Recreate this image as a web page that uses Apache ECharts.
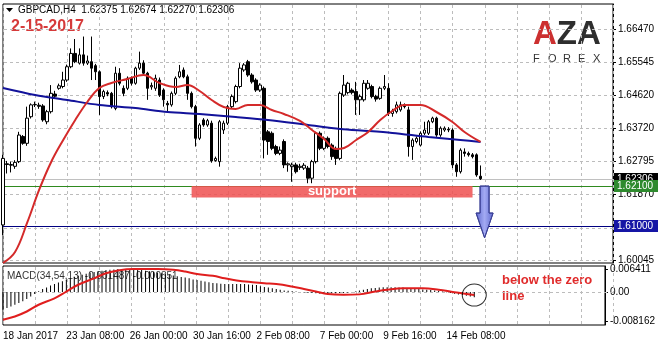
<!DOCTYPE html>
<html><head><meta charset="utf-8">
<script src="https://cdn.jsdelivr.net/npm/echarts@6/dist/echarts.min.js"></script>
<style>html,body{margin:0;padding:0;background:#fff}#c{width:658px;height:346px}</style>
</head><body><div id="c"></div>
<script>
// ---------- DATA ----------
const opens = [1.6102,1.6272,1.6268,1.6265,1.6278,1.6348,1.6329,1.6403,1.6436,1.6435,
1.6433,1.6389,1.6417,1.6466,1.6482,1.6487,1.6505,1.6542,1.6579,1.6552,
1.6575,1.6552,1.6556,1.6545,1.6528,1.6459,1.6470,1.6468,1.6426,1.6524,
1.6482,1.6482,1.6510,1.6496,1.6538,1.6552,1.6524,1.6486,1.6482,1.6505,
1.6477,1.6440,1.6436,1.6468,1.6514,1.6533,1.6514,1.6468,1.6431,1.6343,
1.6394,1.6380,1.6385,1.6281,1.6278,1.6366,1.6385,1.6431,1.6445,1.6487,
1.6533,1.6556,1.6519,1.6505,1.6477,1.6482,1.6361,1.6357,1.6320,1.6301,
1.6334,1.6269,1.6264,1.6269,1.6262,1.6260,1.6260,1.6232,1.6278,1.6357,
1.6315,1.6343,1.6324,1.6315,1.6287,1.6463,1.6470,1.6477,1.6473,1.6450,
1.6450,1.6482,1.6487,1.6459,1.6454,1.6482,1.6482,1.6412,1.6417,1.6422,
1.6436,1.6422,1.6320,1.6334,1.6324,1.6357,1.6357,1.6389,1.6399,1.6352,
1.6366,1.6368,1.6366,1.6269,1.6250,1.6305,1.6301,1.6297,1.6297,1.62375];
const highs = [1.6297,1.6280,1.6278,1.6282,1.6361,1.6352,1.6431,1.6440,1.6445,1.6442,
1.6438,1.6422,1.6491,1.6475,1.6495,1.6528,1.6548,1.6593,1.6619,1.6593,
1.6626,1.6573,1.6626,1.6550,1.6532,1.6478,1.6476,1.6472,1.6542,1.6538,
1.6490,1.6515,1.6515,1.6542,1.6584,1.6560,1.6528,1.6498,1.6520,1.6512,
1.6482,1.6447,1.6473,1.6515,1.6547,1.6540,1.6520,1.6473,1.6436,1.6385,
1.6399,1.6397,1.6392,1.6292,1.6394,1.6392,1.6436,1.6465,1.6492,1.6552,
1.6552,1.6561,1.6524,1.6510,1.6496,1.6487,1.6366,1.6362,1.6325,1.6320,
1.6340,1.6276,1.6275,1.6275,1.6272,1.6274,1.6266,1.6283,1.6361,1.6362,
1.6348,1.6348,1.6329,1.6320,1.6473,1.6519,1.6500,1.6482,1.6500,1.6465,
1.6505,1.6505,1.6492,1.6464,1.6487,1.6519,1.6496,1.6425,1.6445,1.6445,
1.6440,1.6431,1.6343,1.6348,1.6362,1.6389,1.6394,1.6403,1.6403,1.6376,
1.6376,1.6374,1.6371,1.6274,1.6315,1.6315,1.6306,1.6302,1.6301,1.62674];
const lows = [1.6074,1.6245,1.6248,1.6258,1.6274,1.6325,1.6322,1.6398,1.6430,1.6425,
1.6389,1.6382,1.6412,1.6455,1.6478,1.6482,1.6500,1.6538,1.6552,1.6548,
1.6545,1.6547,1.6505,1.6505,1.6408,1.6452,1.6460,1.6426,1.6421,1.6490,
1.6460,1.6477,1.6490,1.6492,1.6533,1.6519,1.6450,1.6478,1.6475,1.6458,
1.6431,1.6419,1.6431,1.6463,1.6510,1.6510,1.6450,1.6426,1.6320,1.6338,
1.6375,1.6375,1.6275,1.6278,1.6264,1.6355,1.6380,1.6426,1.6440,1.6482,
1.6528,1.6514,1.6495,1.6472,1.6472,1.6287,1.6297,1.6310,1.6296,1.6296,
1.6260,1.6250,1.6222,1.6245,1.6255,1.6255,1.6218,1.6218,1.6273,1.6310,
1.6310,1.6315,1.6283,1.6269,1.6282,1.6458,1.6465,1.6465,1.6408,1.6408,
1.6445,1.6478,1.6454,1.6445,1.6450,1.6477,1.6405,1.6403,1.6412,1.6417,
1.6426,1.6292,1.6283,1.6329,1.6320,1.6352,1.6352,1.6385,1.6347,1.6347,
1.6361,1.6360,1.6260,1.6236,1.6245,1.6292,1.6292,1.6287,1.6236,1.6227];
const closes = [1.6287,1.6270,1.6270,1.6276,1.6352,1.6329,1.6399,1.6436,1.6437,1.6432,
1.6394,1.6417,1.6468,1.6460,1.6489,1.6505,1.6542,1.6579,1.6556,1.6575,
1.6552,1.6558,1.6538,1.6528,1.6459,1.6473,1.6466,1.6431,1.6524,1.6496,
1.6468,1.6510,1.6496,1.6538,1.6552,1.6524,1.6482,1.6490,1.6510,1.6463,
1.6450,1.6436,1.6468,1.6510,1.6528,1.6514,1.6468,1.6431,1.6343,1.6380,
1.6380,1.6392,1.6280,1.6287,1.6389,1.6385,1.6431,1.6459,1.6487,1.6538,
1.6547,1.6519,1.6500,1.6477,1.6491,1.6338,1.6334,1.6315,1.6301,1.6310,
1.6269,1.6272,1.6269,1.6250,1.6265,1.6268,1.6232,1.6278,1.6357,1.6315,
1.6343,1.6320,1.6292,1.6287,1.6468,1.6491,1.6496,1.6470,1.6450,1.6459,
1.6496,1.6496,1.6459,1.6452,1.6482,1.6487,1.6412,1.6419,1.6436,1.6436,
1.6431,1.6320,1.6338,1.6343,1.6357,1.6366,1.6389,1.6399,1.6352,1.6371,
1.6371,1.6366,1.6269,1.6250,1.6310,1.6301,1.6297,1.6292,1.6241,1.62306];

// moving averages: [bar index, price]
const maFast = [[0,1.59961],[3,1.60267],[6,1.61074],[9,1.61992],[12,1.62770],[15,1.63382],[18,1.63939],
[21,1.64439],[24,1.64829],[27,1.64968],[31,1.65079],[35,1.65190],[39,1.64968],[43,1.64857],[46,1.64912],
[49,1.64745],[52,1.64495],[55,1.64300],[58,1.64245],[61,1.64356],[64,1.64356],[67,1.64217],[70,1.64106],
[74,1.63911],[77,1.63661],[80,1.63410],[83,1.63132],[85,1.63160],[88,1.63382],[91,1.63605],[94,1.63939],
[97,1.64189],[100,1.64356],[104,1.64356],[108,1.64161],[112,1.63883],[115,1.63605],[119,1.63327]];
const maSlow = [[0,1.64829],[8,1.64634],[16,1.64495],[24,1.64356],[33,1.64272],[41,1.64161],[49,1.64106],
[58,1.64022],[66,1.63939],[76,1.63800],[84,1.63689],[91,1.63633],[97,1.63577],[106,1.63466],[114,1.63382],[119,1.63327]];

// MACD(34,54,13) main histogram per bar
const macdMain = [-0.0050,-0.0045,-0.0041,-0.0036,-0.0031,-0.0026,-0.0020,-0.0013,-0.0006,0.0002,
0.0008,0.0012,0.0018,0.0022,0.0026,0.0030,0.0034,0.0038,0.0042,0.0045,
0.0048,0.0051,0.0054,0.0056,0.0058,0.0059,0.0061,0.0062,0.0063,0.0064,
0.0064,0.0064,0.0064,0.0063,0.0062,0.0061,0.0059,0.0058,0.0056,0.0054,
0.0052,0.0050,0.0048,0.0046,0.0044,0.0042,0.0040,0.0038,0.0035,0.0033,
0.0031,0.0029,0.0027,0.0025,0.0024,0.0023,0.0022,0.0022,0.0022,0.0022,
0.0022,0.0022,0.0021,0.0020,0.0019,0.0016,0.0014,0.0012,0.0010,0.0008,
0.0006,0.0004,0.0003,0.0002,0.0001,0.0000,-0.0002,-0.0003,-0.0003,-0.0004,
-0.0005,-0.0005,-0.0005,-0.0004,-0.0004,-0.0003,-0.0003,-0.0002,-0.0001,0.0001,
0.0004,0.0006,0.0008,0.0010,0.0011,0.0012,0.0013,0.0013,0.0013,0.0013,
0.0012,0.0012,0.0011,0.0010,0.0009,0.0008,0.0007,0.0006,0.0005,0.0004,
0.0003,0.0001,-0.0001,-0.0003,-0.0005,-0.0007,-0.0009,-0.0011,-0.0013,-0.001487];
const macdSignal = [[0,-0.0078],[3,-0.0069],[6,-0.0055],[9,-0.0036],[13,-0.0018],[16,0.0001],[19,0.0020],
[23,0.0038],[26,0.0052],[29,0.0060],[33,0.0064],[36,0.0064],[39,0.0064],[43,0.0062],[46,0.0057],[49,0.0050],
[53,0.0045],[56,0.0038],[59,0.0032],[63,0.0027],[66,0.0024],[69,0.0022],[73,0.0015],[76,0.0008],[79,0.0001],
[82,-0.0006],[86,-0.0008],[90,-0.0007],[94,0.0001],[97,0.0006],[101,0.0010],[106,0.0010],[110,0.0006],
[114,-0.0001],[119,-0.000851]];

const priceTicks = [1.66470,1.65545,1.64620,1.63720,1.62795,1.61870,1.60945,1.60045];
const macdTicks = [0.006411, 0, -0.008162];
const xTickLabels = ['18 Jan 2017','23 Jan 08:00','26 Jan 00:00','30 Jan 16:00','2 Feb 08:00','7 Feb 00:00','9 Feb 16:00','14 Feb 08:00'];
const lastPrice = 1.62306, supportLevel = 1.62100, targetLevel = 1.61000, supportBoxLow = 1.6178;
const titleText = 'GBPCAD,H4  1.62375 1.62674 1.62270 1.62306';
const macdTitle = 'MACD(34,54,13) -0.001487 -0.000851';

// ---------- categories: H4 bars, weekends skipped ----------
const MONTHS = ['Jan','Feb','Mar','Apr','May','Jun','Jul','Aug','Sep','Oct','Nov','Dec'];
function barTimes(startMs, count){
  const out=[]; let t=startMs;
  while(out.length<count){
    const d=new Date(t), wd=d.getUTCDay();
    if(wd!==0 && wd!==6){
      const hh=String(d.getUTCHours()).padStart(2,'0');
      out.push(d.getUTCDate()+' '+MONTHS[d.getUTCMonth()]+' '+hh+':00');
    }
    t+=4*3600e3;
  }
  return out;
}
const categories = barTimes(Date.UTC(2017,0,18,16), 153);
const labelAt = {};
xTickLabels.forEach(l=>{ let i=categories.indexOf(l); if(i<0) i=0; labelAt[i]=l; });
const vGridIdx = categories.map((c,i)=>i).filter(i=>i%8===0);

const candleData = opens.map((o,i)=>[o, closes[i], lows[i], highs[i]]);

const FONT = 'Liberation Sans';
const GRID_COLOR = '#bcbcbc';
const DASH = 3, STEP = 6;
const PANE0 = {left:3, top:4, width:610, height:259};
const PANE1 = {left:3, top:266, width:610, height:59};

// level lines with value boxes on the price scale
const levelStyles = {};
levelStyles[lastPrice] = {line:'#c0c0c0', box:'#000000'};
levelStyles[supportLevel] = {line:'#2f8a1f', box:'#2e8a2e'};
levelStyles[targetLevel] = {line:'#000080', box:'#1515a5'};
function levelRender(params, api){
  const cs = params.coordSys;
  const v = api.value(0);
  const st = levelStyles[v];
  const y = Math.round(api.coord([0, v])[1]) + 0.5;
  const bx = cs.x + cs.width + 1;
  return {type:'group', children:[
    {type:'line', shape:{x1:cs.x, y1:y, x2:cs.x + cs.width, y2:y}, style:{stroke:st.line, lineWidth:1}},
    {type:'rect', shape:{x:bx, y:y - 6.5, width:658 - bx, height:12}, style:{fill:st.box}},
    {type:'text', x:bx + 3, y:y, style:{text:v.toFixed(5), fill:'#fff', font:'10px ' + FONT, verticalAlign:'middle', align:'left'}}
  ]};
}

const baseGraphic = [
  {type:'polygon', shape:{points:[[6,8],[13,8],[9.5,12]]}, style:{fill:'#000'}},
  {type:'text', left:18, top:5, style:{text:titleText, font:'10px '+FONT, fill:'#000'}},
  {type:'text', left:11, top:19, style:{text:'2-15-2017', font:'bold 16px '+FONT, fill:'#d63a3a'}},
  {type:'text', left:533, top:18, style:{text:'{r|A}{d|Z}{d|A}', rich:{r:{font:'bold 33px '+FONT, fill:'#cc3030'}, d:{font:'bold 33px '+FONT, fill:'#2e2e2e'}}}},
  ...'FOREX'.split('').map((ch,k)=>({type:'text', left:533+15*k, top:53, style:{text:ch, font:'11px '+FONT, fill:'#333'}})),
  {type:'text', left:7, top:271, style:{text:macdTitle, font:'10px '+FONT, fill:'#333'}},
  {type:'text', left:502, top:274, style:{text:'below the zero', font:'bold 13px '+FONT, fill:'#e02b2b'}},
  {type:'text', left:502, top:290, style:{text:'line', font:'bold 13px '+FONT, fill:'#e02b2b'}}
];

const chart = echarts.init(document.getElementById('c'), null, {renderer:'canvas'});
chart.setOption({
  animation:false,
  backgroundColor:'#fff',
  grid:[
    {left:PANE0.left, right:45, top:PANE0.top, height:PANE0.height, show:true, borderColor:'#000', borderWidth:1, backgroundColor:'transparent'},
    {left:PANE1.left, right:45, top:PANE1.top, height:PANE1.height, show:true, borderColor:'#000', borderWidth:1, backgroundColor:'transparent'}
  ],
  xAxis:[
    {type:'category', gridIndex:0, data:categories, boundaryGap:false,
     axisLine:{show:false}, axisTick:{show:false}, axisLabel:{show:false}, splitLine:{show:false}},
    {type:'category', gridIndex:1, data:categories, boundaryGap:false,
     axisLine:{show:false}, axisTick:{show:false}, splitLine:{show:false},
     axisLabel:{show:true, interval:(i)=>labelAt[i]!==undefined, formatter:(v,i)=>labelAt[i]||'',
       align:'left', margin:6, color:'#000', fontSize:10, fontFamily:FONT}}
  ],
  yAxis:[
    {type:'value', gridIndex:0, position:'right', min:1.59961, max:1.67165,
     axisLine:{show:true, lineStyle:{color:'#000'}},
     axisTick:{show:true, length:3, customValues:priceTicks, lineStyle:{color:'#000'}},
     axisLabel:{customValues:priceTicks, formatter:v=>v.toFixed(5), color:'#000', fontSize:10, fontFamily:FONT, margin:5},
     splitLine:{show:false}},
    {type:'value', gridIndex:1, position:'right', min:-0.00928, max:0.00725,
     axisLine:{show:true, lineStyle:{color:'#000'}},
     axisTick:{show:true, length:3, customValues:macdTicks, lineStyle:{color:'#000'}},
     axisLabel:{customValues:macdTicks, formatter:v=>v===0?'0.00':v.toFixed(6), color:'#000', fontSize:10, fontFamily:FONT, margin:5},
     splitLine:{show:false}}
  ],
  series:[
    {type:'custom', xAxisIndex:0, yAxisIndex:0, z:3, silent:true, clip:false,
     data:[[lastPrice],[supportLevel],[targetLevel]], encode:{y:0}, renderItem:levelRender},
    {type:'candlestick', xAxisIndex:0, yAxisIndex:0, data:candleData, barWidth:3, z:5,
     itemStyle:{color:'#fff', color0:'#000', borderColor:'#000', borderColor0:'#000', borderWidth:1}},
    {type:'line', xAxisIndex:0, yAxisIndex:0, data:maSlow, showSymbol:false, smooth:0.3, z:6,
     lineStyle:{color:'#12129a', width:2}},
    {type:'line', xAxisIndex:0, yAxisIndex:0, data:maFast, showSymbol:false, smooth:0.4, z:6,
     lineStyle:{color:'#d42a2a', width:2},
     markArea:{silent:true, z:7, itemStyle:{color:'rgba(238,80,80,0.85)'},
       label:{show:true, position:'inside', formatter:'support', color:'#fff', fontWeight:'bold', fontSize:13, fontFamily:FONT},
       data:[[{xAxis:categories[47], yAxis:supportLevel},{xAxis:categories[117], yAxis:supportBoxLow}]]}},
    {type:'custom', xAxisIndex:0, yAxisIndex:0, z:8, data:[[120, 1.6210, 1.6135, 1.6066]],
     encode:{x:0, y:[1,2,3]},
     renderItem:(params, api)=>{
       const top=api.coord([api.value(0), api.value(1)]);
       const neck=api.coord([api.value(0), api.value(2)]);
       const tip=api.coord([api.value(0), api.value(3)]);
       const x=top[0];
       return {type:'polygon', shape:{points:[[x-4.5,top[1]],[x+4.5,top[1]],[x+4.5,neck[1]],[x+8.5,neck[1]],[x,tip[1]],[x-8.5,neck[1]],[x-4.5,neck[1]]]},
         style:{fill:new echarts.graphic.LinearGradient(0,0,1,0,[{offset:0,color:'#5f69cf'},{offset:0.5,color:'#a3aaf3'},{offset:1,color:'#5f69cf'}]), stroke:'#3b4196', lineWidth:1}};
     }},
    {type:'bar', xAxisIndex:1, yAxisIndex:1, data:macdMain, barWidth:1, itemStyle:{color:'#000'}, z:4},
    {type:'line', xAxisIndex:1, yAxisIndex:1, data:macdSignal, showSymbol:false, smooth:0.4, z:5,
     lineStyle:{color:'#e01e1e', width:2}},
    {type:'scatter', xAxisIndex:1, yAxisIndex:1, data:[[119,-0.0009]], symbol:'circle', symbolSize:[24,22], z:6,
     itemStyle:{color:'rgba(0,0,0,0)', borderColor:'#000', borderWidth:1}}
  ],
  graphic:baseGraphic
});

// dashed grid lines: positions come from the axes via convertToPixel, drawn as 1px rect pieces
const gridPieces = [];
function hDash(y, pane){
  const yy = Math.round(y);
  for (let p = pane.left + 1; p < pane.left + pane.width; p += STEP)
    gridPieces.push({type:'rect', silent:true, z:1, shape:{x:p, y:yy, width:Math.min(DASH, pane.left + pane.width - p), height:1}, style:{fill:GRID_COLOR}});
}
function vDash(x, pane){
  const xx = Math.round(x);
  for (let p = pane.top + 1; p < pane.top + pane.height; p += STEP)
    gridPieces.push({type:'rect', silent:true, z:1, shape:{x:xx, y:p, width:1, height:Math.min(DASH, pane.top + pane.height - p)}, style:{fill:GRID_COLOR}});
}
priceTicks.forEach(v=>{ const pt = chart.convertToPixel({xAxisIndex:0, yAxisIndex:0}, [0, v]); hDash(pt[1], PANE0); });
const zeroPt = chart.convertToPixel({xAxisIndex:1, yAxisIndex:1}, [0, 0]); hDash(zeroPt[1], PANE1);
vGridIdx.forEach(i=>{
  const p0 = chart.convertToPixel({xAxisIndex:0, yAxisIndex:0}, [i, priceTicks[0]]);
  vDash(p0[0], PANE0); vDash(p0[0], PANE1);
});
chart.setOption({graphic: baseGraphic.concat(gridPieces)}, {replaceMerge:['graphic']});
</script></body></html>
